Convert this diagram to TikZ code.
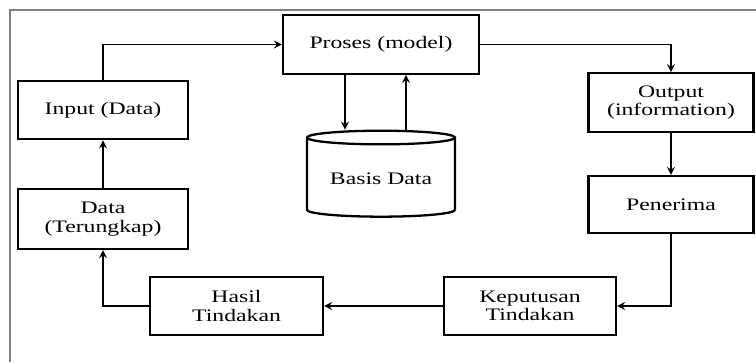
\documentclass[tikz,border=0pt]{standalone}
\usepackage{fontspec}
\setmainfont{Liberation Serif}[FakeStretch=1.35]
\usetikzlibrary{shapes.geometric}
\tikzset{kotak/.style={draw,line width=1.3pt,align=center,minimum height=1.17cm},
	basisdata/.style={draw,line width=1.3pt,cylinder,shape border rotate=90,aspect=0.12}}
\begin{document}
\begin{tikzpicture}[x=0.02cm,y=-0.02cm,>=stealth,line width=1pt,font=\fontsize{10}{10.5}\selectfont]
	\useasboundingbox (0,0) rectangle (756,362);
	\draw[gray,line width=0.6pt] (10,362)--(10,10)--(756,10);
	\node[kotak,minimum width=3.92cm] (proses) at (381,44.5) {Proses (model)};
	\node[kotak,minimum width=3.4cm] (input) at (103,110) {Input (Data)};
	\node[kotak,minimum width=3.4cm,minimum height=1.2cm] (data) at (103,219) {Data\\(Terungkap)};
	\node[kotak,minimum width=3.3cm] (output) at (671,102.5) {Output\\(information)};
	\node[kotak,minimum width=3.3cm,minimum height=1.14cm] (penerima) at (671,204.5) {Penerima};
	\node[kotak,minimum width=3.44cm,minimum height=1.16cm] (keputusan) at (530,306) {Keputusan\\Tindakan};
	\node[kotak,minimum width=3.46cm,minimum height=1.16cm] (hasil) at (236.5,306) {Hasil\\Tindakan};
	\node[basisdata,minimum width=2.96cm,minimum height=1.72cm] (basis) at (381,179) {Basis Data};
	\draw[->] (input.north) |- (proses.west);
	\draw[->] (proses.east) -| (output.north);
	\draw[->] (output.south)--(penerima.north);
	\draw[->] (penerima.south) |- (keputusan.east);
	\draw[->] (keputusan.west)--(hasil.east);
	\draw[->] (hasil.west) -| (data.south);
	\draw[->] (data.north)--(input.south);
	\draw[->] ([xshift=-0.72cm]proses.south)--([xshift=-0.72cm]proses.south |- basis.north);
	\draw[->] ([xshift=0.5cm]proses.south |- basis.north)--([xshift=0.5cm]proses.south);
\end{tikzpicture}
\end{document}
